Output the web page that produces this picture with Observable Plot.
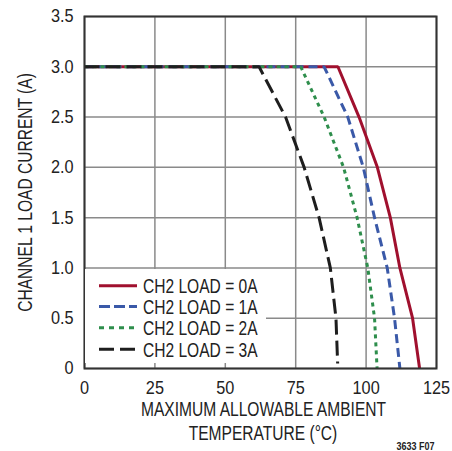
<!DOCTYPE html>
<html>
<head>
<meta charset="utf-8">
<script src="https://cdn.jsdelivr.net/npm/d3@7"></script>
<script src="https://cdn.jsdelivr.net/npm/@observablehq/plot@0.6"></script>
<style>
  html, body { margin: 0; padding: 0; background: #fff; }
  #wrap { position: relative; width: 452px; height: 451px; }
  #legend { position: absolute; left: 85px; top: 269px; width: 181px; height: 94px; background: #fff; }
  #legend svg { display: block; }
</style>
</head>
<body>
<div id="wrap"></div>
<script>
const FONT = "'Liberation Sans', Arial, sans-serif";
const NARROW_WORDS = 0.76;  // condensed look of the original typeface
const NARROW_DIGITS = 0.88;
const NARROW_NOTE = 0.82;

// Data
const seriesNames = ["CH2 LOAD = 0A", "CH2 LOAD = 1A", "CH2 LOAD = 2A", "CH2 LOAD = 3A"];
const load0Temp = [0, 90, 97.5, 104, 108.6, 112, 116.5, 119];
const load0Curr = [3, 3, 2.5, 2.0, 1.5, 1.0, 0.5, 0];
const load1Temp = [0, 85.1, 93.5, 99, 103, 107.5, 110.1, 112];
const load1Curr = [3, 3, 2.5, 2.0, 1.5, 1.0, 0.5, 0];
const load2Temp = [0, 76.8, 85.1, 92, 96.8, 100.6, 103, 103.9];
const load2Curr = [3, 3, 2.5, 2.0, 1.5, 1.0, 0.5, 0];
const load3Temp = [0, 62, 71.4, 78, 83.3, 87.3, 89.3, 89.9];
const load3Curr = [3, 3, 2.5, 2.0, 1.5, 1.0, 0.5, 0.05];

const xTicks = [0, 25, 50, 75, 100, 125];
const yTicks = [0, 0.5, 1.0, 1.5, 2.0, 2.5, 3.0, 3.5];

const styles = [
  {stroke: "#a0102e", dash: null, legendDash: null},
  {stroke: "#3a59a8", dash: "9,5", legendDash: "11,4"},
  {stroke: "#2e8e4c", dash: "4,4", legendDash: "5,5"},
  {stroke: "#1e1e1e", dash: "15,6", legendDash: "15,6"}
];

const toRows = (t, c) => t.map((v, i) => ({t: v, c: c[i]}));
const series = [
  toRows(load0Temp, load0Curr),
  toRows(load1Temp, load1Curr),
  toRows(load2Temp, load2Curr),
  toRows(load3Temp, load3Curr)
];

const lineMarks = series.map((rows, i) =>
  Plot.line(rows, {x: "t", y: "c", stroke: styles[i].stroke, strokeWidth: 3,
    strokeDasharray: styles[i].dash, strokeLinejoin: "miter", strokeLinecap: "butt"}));

const chart = Plot.plot({
  width: 452,
  height: 451,
  marginLeft: 84,
  marginRight: 16,
  marginTop: 16,
  marginBottom: 83,
  style: {fontFamily: FONT, fontSize: "19px", color: "#222", background: "#fff"},
  x: {domain: [0, 125], label: null},
  y: {domain: [0, 3.5], label: null},
  marks: [
    Plot.gridX(xTicks, {stroke: "#8a8a8a", strokeOpacity: 1, strokeWidth: 1.5}),
    Plot.gridY(yTicks, {stroke: "#8a8a8a", strokeOpacity: 1, strokeWidth: 1.5}),
    Plot.axisX(xTicks, {tickSize: 0, tickPadding: 12, fontSize: 18.5, label: null, tickFormat: d => String(d)}),
    Plot.axisY(yTicks, {tickSize: 0, tickPadding: 11, fontSize: 18.5, label: null,
      tickFormat: d => d === 0 ? "0" : d.toFixed(1)}),
    ...lineMarks,
    Plot.frame({stroke: "#333", strokeWidth: 2}),
    Plot.text(["CHANNEL 1 LOAD CURRENT (A)"], {frameAnchor: "left", dx: -59, rotate: -90,
      textAnchor: "middle", lineAnchor: "middle", fontSize: 20.5, fill: "#222"}),
    Plot.text(["MAXIMUM ALLOWABLE AMBIENT"], {frameAnchor: "bottom", dx: 3, dy: 41,
      lineAnchor: "middle", fontSize: 20.5, fill: "#222"}),
    Plot.text(["TEMPERATURE (°C)"], {frameAnchor: "bottom", dx: 2.5, dy: 65,
      lineAnchor: "middle", fontSize: 20.5, fill: "#222"}),
    Plot.text(["3633 F07"], {frameAnchor: "bottom-right", dx: -2, dy: 78, textAnchor: "end",
      lineAnchor: "middle", fontSize: 11, fontWeight: "bold", fill: "#222"})
  ]
});

// condense every text horizontally about its own anchor point
chart.querySelectorAll("text").forEach(t => {
  const s = t.textContent;
  const k = s === "3633 F07" ? NARROW_NOTE : /^[\d.]+$/.test(s) ? NARROW_DIGITS : NARROW_WORDS;
  const tr = t.getAttribute("transform");
  if (tr) {
    t.setAttribute("transform", tr + ` scale(${k},1)`);
  } else {
    const x = +t.getAttribute("x") || 0, y = +t.getAttribute("y") || 0;
    t.setAttribute("transform", `translate(${x},${y}) scale(${k},1) translate(${-x},${-y})`);
  }
});

const wrap = document.getElementById("wrap");
wrap.appendChild(chart);

// Legend overlay inside the plot area
const legend = document.createElement("div");
legend.id = "legend";
const ns = "http://www.w3.org/2000/svg";
const lsvg = document.createElementNS(ns, "svg");
lsvg.setAttribute("width", 181);
lsvg.setAttribute("height", 94);
const rowY = [16.7, 37.5, 58.7, 80.3];
seriesNames.forEach((name, i) => {
  const ln = document.createElementNS(ns, "line");
  ln.setAttribute("x1", 14); ln.setAttribute("x2", 52);
  ln.setAttribute("y1", rowY[i]); ln.setAttribute("y2", rowY[i]);
  ln.setAttribute("stroke", styles[i].stroke);
  ln.setAttribute("stroke-width", 3);
  if (styles[i].legendDash) ln.setAttribute("stroke-dasharray", styles[i].legendDash);
  lsvg.appendChild(ln);
  const tx = document.createElementNS(ns, "text");
  tx.setAttribute("transform", `translate(58,${rowY[i]}) scale(${NARROW_WORDS},1)`);
  tx.setAttribute("dy", "0.36em");
  tx.setAttribute("font-family", FONT);
  tx.setAttribute("font-size", 20.5);
  tx.setAttribute("fill", "#222");
  tx.textContent = name;
  lsvg.appendChild(tx);
});
legend.appendChild(lsvg);
wrap.appendChild(legend);
</script>
</body>
</html>
